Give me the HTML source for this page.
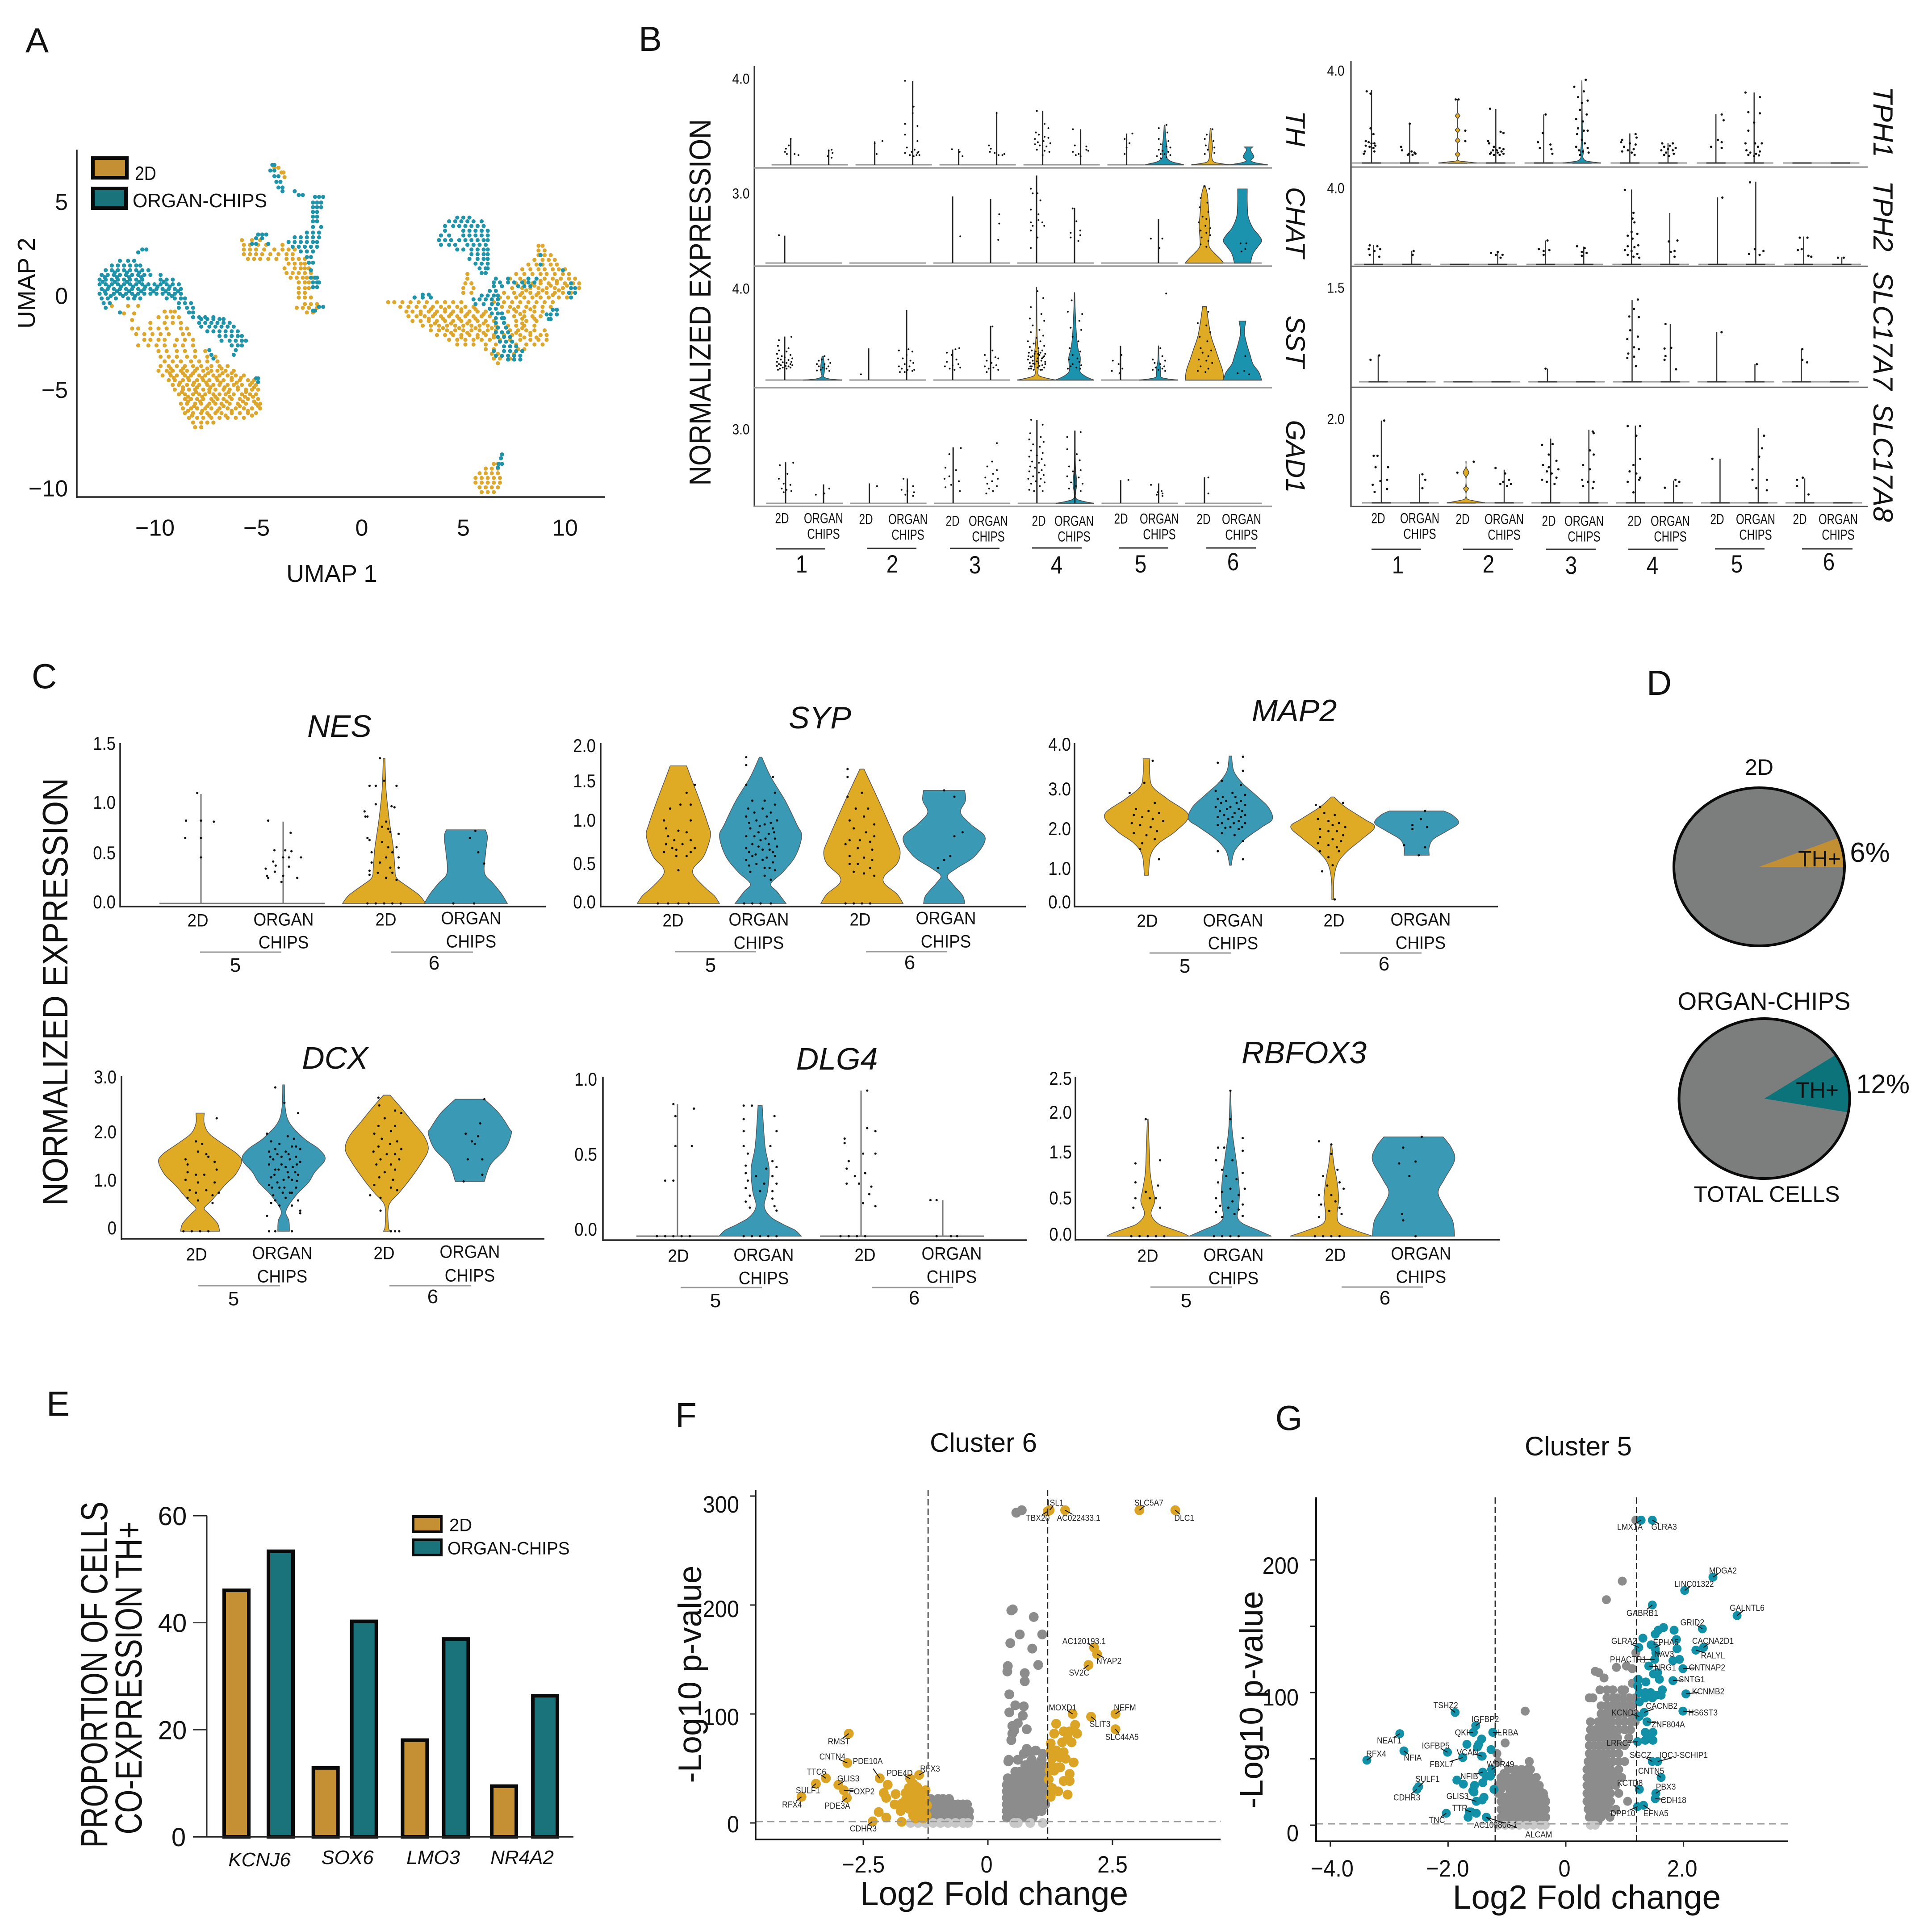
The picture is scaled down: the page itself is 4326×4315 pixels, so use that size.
<!DOCTYPE html>
<html lang="en">
<head>
<meta charset="utf-8">
<title>Single-cell expression figure, panels A to G</title>
<style>
html,body{margin:0;padding:0;background:#fff}
#figure{display:block;font-family:"Liberation Sans",Arial,sans-serif;fill:#111}
</style>
</head>
<body>
<svg id="figure" xmlns="http://www.w3.org/2000/svg" width="4326" height="4315" viewBox="0 0 4326 4315">
<rect width="4326" height="4315" fill="#fff"/>
<g font-size="78" text-anchor="middle">
<text x="83" y="117">A</text>
<text x="1456" y="114">B</text>
<text x="99" y="1541">C</text>
<text x="3715" y="1556">D</text>
<text x="130" y="3170">E</text>
<text x="1536" y="3196">F</text>
<text x="2886" y="3202">G</text>
</g>
<g text-anchor="middle">
<text x="743" y="1303" font-size="55">UMAP 1</text>
<text transform="translate(78,634) rotate(-90)" font-size="55">UMAP 2</text>
<text transform="translate(1591,677) rotate(-90)" font-size="68" textLength="821" lengthAdjust="spacingAndGlyphs">NORMALIZED EXPRESSION</text>
<text transform="translate(151,2221) rotate(-90)" font-size="80" textLength="958" lengthAdjust="spacingAndGlyphs">NORMALIZED EXPRESSION</text>
<text transform="translate(240,3750) rotate(-90)" font-size="84" textLength="775" lengthAdjust="spacingAndGlyphs">PROPORTION OF CELLS</text>
<text transform="translate(317,3757) rotate(-90)" font-size="84" textLength="701" lengthAdjust="spacingAndGlyphs">CO-EXPRESSION TH+</text>
<text x="2202" y="3251" font-size="60">Cluster 6</text>
<text x="3534" y="3259" font-size="60">Cluster 5</text>
<text x="2226" y="4266" font-size="75">Log2 Fold change</text>
<text x="3553" y="4274" font-size="75">Log2 Fold change</text>
<text transform="translate(1570,3749) rotate(-90)" font-size="73">-Log10 p-value</text>
<text transform="translate(2827,3806) rotate(-90)" font-size="73">-Log10 p-value</text>
</g>
<g text-anchor="middle" font-style="italic">
<text transform="translate(2880,288) rotate(90)" font-size="60">TH</text>
<text transform="translate(2880,498) rotate(90)" font-size="60">CHAT</text>
<text transform="translate(2880,765) rotate(90)" font-size="60">SST</text>
<text transform="translate(2880,1022) rotate(90)" font-size="60">GAD1</text>
<text transform="translate(4195,273) rotate(90)" font-size="62">TPH1</text>
<text transform="translate(4195,484) rotate(90)" font-size="62">TPH2</text>
<text transform="translate(4195,741) rotate(90)" font-size="62">SLC17A7</text>
<text transform="translate(4195,1036) rotate(90)" font-size="62">SLC17A8</text>
<text x="760" y="1650" font-size="70">NES</text>
<text x="750" y="2393" font-size="70">DCX</text>
<text x="1836" y="1631" font-size="70">SYP</text>
<text x="2898" y="1615" font-size="70">MAP2</text>
<text x="1874" y="2395" font-size="70">DLG4</text>
<text x="2920" y="2381" font-size="70">RBFOX3</text>
</g>
<g text-anchor="middle">
<text x="3939" y="1735" font-size="50">2D</text>
<text x="3950" y="2261" font-size="56" textLength="387" lengthAdjust="spacingAndGlyphs">ORGAN-CHIPS</text>
<text x="3956" y="2691" font-size="50">TOTAL CELLS</text>
</g>
<g id="layer-umap"></g>
<g id="layer-b"></g>
<g id="layer-c"></g>
<g id="layer-d"></g>
<g id="layer-e"></g>
<g id="layer-f"></g>
<g id="layer-g"></g>
<g text-anchor="middle" font-size="50">
<text x="4074" y="1940">TH+</text>
<text x="4069" y="2458">TH+</text>
<text x="4187" y="1930" font-size="62">6%</text>
<text x="4216" y="2448" font-size="60">12%</text>
</g>
</svg>
<script>
/* ---------- UMAP data: each row is [UMAP2, [UMAP1 values]] ---------- */
const umapGold=[
[-3.45,[-9.7,-9.3,-8.9,-8.4,-8.0,-7.6,-7.1]],[-3.7,[-9.9,-9.5,-9.1,-8.7,-8.3,-7.9,-7.4,-7.0,-6.6]],
[-3.95,[-10.0,-9.6,-9.3,-8.9,-8.6,-8.2,-7.8,-7.4,-7.1,-6.7,-6.3]],[-4.2,[-9.8,-9.4,-9.1,-8.7,-8.4,-8.0,-7.7,-7.3,-7.0,-6.6,-6.2,-5.8]],
[-4.45,[-9.5,-9.2,-8.8,-8.5,-8.1,-7.8,-7.5,-7.1,-6.8,-6.4,-6.0,-5.6,-5.3]],[-4.7,[-9.3,-9.0,-8.6,-8.3,-8.0,-7.6,-7.3,-7.0,-6.6,-6.3,-5.9,-5.5,-5.2]],
[-4.95,[-9.2,-8.8,-8.5,-8.2,-7.8,-7.5,-7.2,-6.8,-6.5,-6.1,-5.7,-5.4,-5.1]],[-5.2,[-9.0,-8.7,-8.3,-8.0,-7.7,-7.3,-7.0,-6.7,-6.3,-5.9,-5.5,-5.2]],
[-5.45,[-8.7,-8.4,-8.1,-7.8,-7.4,-7.1,-6.8,-6.4,-6.0,-5.6,-5.1]],[-5.7,[-8.9,-8.6,-8.2,-7.9,-7.5,-7.2,-6.9,-6.5,-6.1,-5.7,-5.2,-5.0]],
[-5.95,[-8.8,-8.4,-8.1,-7.7,-7.4,-7.0,-6.6,-6.2,-5.8,-5.4,-5.0]],[-6.2,[-8.7,-8.3,-7.9,-7.6,-7.2,-6.9,-6.4,-6.0,-5.6,-5.2]],
[-6.45,[-8.5,-8.1,-7.8,-7.4,-7.0,-6.6,-6.2,-5.8]],[-6.7,[-8.3,-7.9,-7.6,-7.3]],[-6.95,[-8.2,-7.9]],
[-3.83,[-9.4,-8.8,-8.1,-7.6,-6.9]],[-4.08,[-9.45,-8.8,-8.3,-7.55,-6.85,-6.4]],[-4.33,[-9.25,-8.55,-7.85,-7.15,-6.4,-5.95]],[-4.58,[-8.95,-8.25,-7.65,-6.95,-6.15,-5.4]],[-4.83,[-8.8,-8.1,-7.45,-6.75,-6.1,-5.3]],[-5.08,[-8.85,-8.15,-7.5,-6.55,-5.7]],[-5.33,[-8.55,-7.85,-7.2,-6.5,-5.75,-5.35]],[-5.58,[-8.55,-7.95,-7.3,-6.65,-5.85,-5.3]],[-5.83,[-8.25,-7.6,-6.8,-6.0,-5.1]],[-6.08,[-8.55,-7.85,-7.1,-6.4,-5.6]],[-6.33,[-8.35,-7.5,-6.7,-5.4]],
[-.8,[-9.7,-9.4,-9.2]],[-1.1,[-10,-9.6,-9.3,-9.0]],[-1.4,[-10.4,-9.7,-9.3,-8.9]],[-1.7,[-11.3,-11.0,-10.4,-10.0,-9.6,-8.9,-8.6]],
[-2.0,[-11.1,-10.7,-10.3,-9.9,-9.5,-8.8,-8.5]],[-2.3,[-10.7,-10.4,-10,-9.7,-9.1,-8.7,-8.3]],[-2.6,[-11,-10.5,-10.1,-9.7,-9.2,-8.8,-8.3]],
[-2.9,[-10.0,-9.6,-9.1,-8.7,-8.2,-7.7]],[-3.2,[-9.9,-9.5,-9.1,-8.6,-8.2,-7.6,-7.2]],[-.5,[-12.3,-11.5,-11.0]],[-.9,[-11.7,-11.2]],[-1.25,[-11.3]],
[3.0,[-5.9,-5.4,-5.0]],[2.75,[-5.8,-5.5,-5.1,-4.7,-3.9]],[2.5,[-5.8,-5.5,-5.2,-4.8,-4.3,-3.9,-3.6,-3.3]],[2.25,[-5.8,-5.5,-5.2,-4.9,-4.5,-4.1,-3.7,-3.4]],
[2.0,[-5.6,-5.3,-5.0,-4.6,-4.2,-3.7,-3.4,-3.1,-2.8]],[1.75,[-3.6,-3.3,-3.0,-2.8]],[1.5,[-3.8,-3.3,-3.0,-2.8,-2.6]],[1.25,[-3.7,-3.4,-3.1,-2.8,-2.5]],
[1.0,[-3.5,-3.2,-2.9,-2.7,-2.4]],[.75,[-3.1,-2.8,-2.6,-2.4]],[.45,[-3.1,-2.8,-2.6]],[.2,[-3.1,-2.8]],[-.05,[-3.1,-2.8,-2.5]],[-.4,[-2.8,-2.5,-2.2]],[-.6,[-3.2,-2.9,-2.6,-2.2]],[-.85,[-2.7,-2.4]],
[6.85,[-4.3,-4.1]],[6.6,[-3.95,-3.85]],[6.35,[-3.8]],
[2.7,[8.7,8.9]],[2.45,[8.7,9.0]],[2.2,[8.7,9.0,9.3]],[1.95,[8.5,8.9,9.2,9.5]],[1.7,[8.2,8.6,8.9,9.3,9.6]],[1.45,[7.9,8.3,8.7,9.0,9.4,9.7,10.0]],
[1.2,[5.2,7.6,8.0,8.4,8.8,9.1,9.5,9.9,10.2]],[.95,[5.2,7.3,7.8,8.2,8.6,9.0,9.4,9.8,10.2,10.5]],[.7,[5.1,5.4,7.6,8.0,8.4,8.8,9.2,9.6,10.0,10.4,10.7]],
[.45,[5.0,5.5,7.4,7.9,8.3,8.7,9.1,9.5,9.9,10.3,10.7]],[.2,[5.0,5.4,7.0,7.5,7.9,8.3,8.7,9.1,9.5,9.9,10.3]],[-.05,[2.6,6.8,7.2,7.6,8.0,8.4,8.8,9.2,9.7,10.1]],
[-.3,[1.3,1.6,2.0,2.4,2.8,3.2,3.7,4.1,4.5,4.9,6.5,7.0,7.4,7.8,8.2,8.6,9.0,9.4]],[-.55,[1.9,2.3,2.7,3.1,3.5,3.9,4.3,4.7,5.1,5.5,6.9,7.3,7.7,8.1,8.5,8.9,9.3]],
[-.8,[2.2,2.5,2.9,3.3,3.7,4.1,4.5,4.9,5.3,5.7,6.1,7.2,7.6,8.0,8.5,8.9]],[-1.05,[2.3,2.7,3.1,3.5,3.9,4.3,4.7,5.1,5.5,5.9,6.3,7.5,8.0,8.4,8.8]],
[-1.3,[2.5,2.9,3.3,3.7,4.1,4.5,4.9,5.3,5.7,6.1,6.5,7.6,8.1,8.6]],[-1.55,[3.0,3.4,3.8,4.2,4.6,5.0,5.4,5.8,6.2,6.6,7.2,7.6,8.0,8.5]],
[-1.8,[3.4,3.8,4.2,4.6,5.0,5.4,5.8,6.2,6.6,7.3,7.7,8.1,8.5,9.0]],[-2.05,[3.7,4.1,4.5,4.9,5.3,5.7,6.1,6.5,7.0,7.4,7.8,8.3,8.8,9.1]],
[-2.3,[4.3,4.7,5.1,5.5,5.9,6.3,6.8,7.3,7.8,8.3,8.7,9.1]],[-2.55,[4.7,5.1,5.5,6.1,6.6,7.6,8.1,8.5,8.9]],[-2.8,[6.1,6.5,7.7,8.0]],[-3.05,[6.4,6.7,7.5]],[-3.3,[6.5,6.8,7.3]],[-3.55,[6.7]],
[-.68,[3.4,4.1,4.9,5.6,7.5,8.3]],[-.93,[2.9,3.6,4.4,5.2,6.0,7.8]],[-1.18,[3.3,4.0,4.8,5.6,7.9,8.5]],[-1.43,[3.6,4.4,5.2,6.0,7.9]],[-1.68,[4.0,4.8,5.6,6.4,7.9]],[-1.93,[4.4,5.2,6.0,7.6,8.3]],[-2.18,[4.9,5.7,6.5,8.0,8.6]],[.33,[8.1,8.9,9.7]],[.08,[7.8,8.6,9.4]],[.58,[8.5,9.3,10.1]],[.83,[8.0,8.8,9.6]],
[-8.9,[6.5,6.7]],[-9.15,[6.1,6.4,6.7]],[-9.4,[5.8,6.1,6.4,6.7]],[-9.65,[5.6,5.9,6.2,6.5,6.8]],[-9.9,[5.6,5.9,6.2,6.5,6.8]],[-10.15,[5.8,6.1,6.4,6.7]],[-10.4,[5.9,6.2,6.5]]
];
const umapTeal=[
[2.5,[-10.8,-10.6]],[2.35,[-11.0]],[1.9,[-11.9,-11.5,-11.2]],[1.65,[-12.3,-12.0,-11.7,-11.4,-11.1,-10.9]],[1.4,[-12.6,-12.3,-12.0,-11.7,-11.4,-11.1,-10.8,-10.5]],
[1.15,[-12.8,-12.5,-12.2,-11.9,-11.6,-11.3,-11.0,-10.7,-10.4,-9.9]],[.9,[-12.9,-12.6,-12.3,-12.0,-11.7,-11.4,-11.1,-10.8,-9.9,-9.6,-9.3]],
[.65,[-12.9,-12.6,-12.3,-12.0,-11.7,-11.4,-11.1,-10.8,-10.5,-10.2,-9.9,-9.6,-9.3,-9.0]],[.4,[-12.8,-12.5,-12.2,-11.9,-11.6,-11.3,-11,-10.7,-10.4,-10.1,-9.8,-9.5,-9.2,-8.9]],
[.15,[-12.9,-12.6,-12.2,-11.9,-11.6,-11.3,-11,-10.7,-10.4,-10.1,-9.8,-9.5,-9.2,-8.9]],[-.1,[-12.8,-12.5,-12.1,-11.5,-11.2,-10.9,-9.6,-9.2,-8.9,-8.7]],
[-.35,[-12.7,-12.4,-9.0,-8.7,-8.4]],[-.6,[-12.6,-9.0,-8.6,-8.3]],[-.85,[-11.9,-8.5,-8.3]],[-1.1,[-8.3,-8.0,-7.7,-7.3]],
[-1.2,[-7.9,-7.6,-7.3,-7.0,-6.8]],[-1.4,[-8.0,-7.7,-7.4,-7.1,-6.8,-6.5]],[-1.6,[-7.9,-7.5,-7.2,-6.9,-6.6,-6.3]],[-1.85,[-7.6,-7.3,-7.0,-6.7,-6.4,-6.1]],
[-2.1,[-7.0,-6.7,-6.4,-6.1,-5.9]],[-2.35,[-6.9,-6.5,-6.2,-5.9,-5.7]],[-2.6,[-6.4,-6.1,-5.9]],[-2.85,[-7.5,-6.2]],[-3.1,[-7.4,-6.3]],[-3.3,[-7.3]],[-4.35,[-5.2,-5.1]],[-4.55,[-5.1]],
[1.28,[-12.15,-11.55,-10.95]],[1.03,[-12.65,-12.05,-11.45,-10.85]],[.78,[-12.75,-12.15,-11.55,-10.95,-9.75]],[.53,[-12.45,-11.85,-11.25,-10.65,-10.05,-9.45]],[.28,[-12.65,-12.05,-11.45,-10.85,-10.25,-9.65,-9.05]],[.03,[-12.35,-11.75,-11.15,-9.35]],
[7.0,[-4.4,-4.3]],[6.7,[-4.5,-4.3]],[6.4,[-4.3,-4.1]],[6.1,[-4.2,-4.0]],[5.8,[-4.1,-3.9]],[5.6,[-3.9,-3.3]],[5.4,[-3.1,-2.9]],
[5.3,[-2.3,-2.1,-1.9]],[5.0,[-2.4,-2.2,-2.0]],[4.75,[-2.4,-2.2,-2.0]],[4.5,[-2.4,-2.2]],[4.25,[-2.4,-2.2]],[4.0,[-2.4,-2.2]],[3.7,[-2.4,-2.0]],[3.4,[-2.7,-2.4,-2.1]],
[3.15,[-3.3,-3.0,-2.7,-2.4,-2.1]],[2.9,[-3.6,-3.3,-3.0,-2.7,-2.4,-2.2]],[2.65,[-3.4,-3.1,-2.8,-2.5,-2.2]],[2.4,[-3.0,-2.7,-2.4]],[2.1,[-2.7,-2.5]],[1.8,[-2.6,-2.4]],[1.4,[-2.5]],
[1.0,[-2.5,-2.3,-2.2]],[.75,[-2.4,-2.2,-2.1]],[.5,[-2.4,-2.2]],[3.3,[-5.1,-4.9,-4.7]],[3.1,[-5.2,-4.9]],[2.8,[-5.4,-5.2,-4.6]],[-.55,[-2.1,-1.9]],[-.75,[-2.4,-2.3]],
[4.2,[4.7,5.0,5.3]],[4.0,[4.3,4.6,4.9,5.2,5.5,5.9]],[3.75,[4.1,4.5,4.8,5.1,5.4,5.7,6.0]],[3.5,[4.1,5.0,5.3,5.6,5.9,6.2]],[3.25,[3.9,4.3,5.0,5.3,5.6,5.9,6.2]],
[3.0,[3.8,4.1,4.4,4.8,5.1,5.4,5.7,6.0,6.2]],[2.75,[3.9,4.3,4.6,5.2,5.5,5.8,6.1]],[2.5,[4.7,5.0,5.4,5.7,6.0,6.2]],[2.25,[5.4,5.7,6.0,6.2]],[2.0,[5.3,5.7,6.0,6.2]],
[1.75,[5.6,5.9,6.2]],[1.5,[5.8,6.1,6.2]],[1.25,[5.9,6.1]],[.95,[6.6,7.2,8.2,8.6]],[.75,[6.5,6.8,7.2,7.5,7.9,8.2,8.5]],[.55,[6.5,6.9,7.7,8.0,8.3]],
[.3,[6.3,6.6]],[.05,[5.9,6.2,6.5,6.7]],[-.15,[5.5,5.8,6.1,6.4,6.7]],[-.4,[5.6,6.0,6.4,6.7]],[-.65,[6.3,6.6]],[-.9,[6.4,6.7,6.9]],[-1.15,[6.6,6.9,7.0]],[-1.4,[6.6,7.0]],
[-1.65,[6.7,7.1]],[-1.9,[6.6,6.9,7.2]],[-2.15,[6.7,7.0,7.3]],[-2.4,[6.8,7.1,7.4]],[-2.65,[7.0,7.3,7.6]],[-2.9,[6.5,7.0,7.3,7.6,7.9]],[-3.15,[6.6,6.9,7.2,7.5,7.8]],[-3.35,[7.2,7.5,7.8]],
[-.05,[2.6,3.0,3.4]],[.1,[3.0,3.3]],[-.7,[9.4,9.6]],[-.95,[9.1,9.3,9.6]],[-1.2,[9.2,9.3]],[.7,[10.3]],[.45,[10.3,10.5]],[.2,[10.2,10.5]],[-.05,[10.3]],[2.2,[8.8]],[1.7,[8.8]],[1.4,[9.9]],
[-8.4,[6.9]],[-8.6,[6.85]],[-8.9,[6.75,6.9]],[-9.1,[6.7]]
];
const umapXTicks=[-10,-5,0,5,10];
const umapYTicks=[5,0,-5,-10];

/* ---------- Panel B: vertical-line tops, violin profiles ([value, relative width]) and jitter ([dx, value, ...]) ---------- */
const groupNumbers=['1','2','3','4','5','6'];
const thTops=[1.22,.71,1.09,3.88,.73,2.46,2.51,1.65,1.45,0,0,0];
const chatTops=[1.18,0,0,0,2.87,2.76,3.77,2.38,0,1.89,0,0];
const sstTops=[1.91,0,1.39,3.08,1.34,2.38,0,0,1.5,0,0,0];
const gad1Tops=[1.67,.77,.81,1.01,2.28,0,3.39,2.96,.94,.81,1.06,0];
const tph1Tops=[3.17,1.71,0,2.34,2.1,0,1.28,.86,2.11,3.05,0,0];
const tph2Tops=[1.03,.71,0,.69,1.25,.93,3.92,2.69,3.51,4.33,1.46,.37];
const slc7Tops=[.42,0,0,0,.21,0,1.3,.92,.79,.28,.52,0];
const slc8Tops=[1.96,.68,0,.79,1.53,1.74,1.84,.53,1.05,1.78,.58,0];
const thShapes={9:[[1.84,.02],[1.3,.06],[.85,.12],[.6,.14],[.4,.1],[.25,.18],[.12,.45],[.06,.75],[0,1]],10:[[1.69,.02],[1.2,.06],[.8,.1],[.4,.06],[.15,.15],[.07,.45],[0,1]],11:[[.83,.22],[.7,.1],[.5,.22],[.35,.28],[.2,.12],[.1,.35],[0,1]]};
const chatShapes={10:[[3.34,.03],[2.9,.16],[2.2,.22],[1.6,.28],[1.1,.24],[.7,.25],[.4,.55],[.2,.8],[0,1]],11:[[3.19,.25],[2.6,.25],[2.0,.3],[1.5,.55],[1.2,.85],[.95,1],[.7,.8],[.4,.55],[0,.42]]};
const sstShapes={1:[[1.05,.03],[.6,.1],[.3,.08],[.15,.05],[.05,.35],[0,1]],6:[[4.08,.01],[2,.03],[1.2,.1],[.6,.1],[.25,.08],[.12,.35],[0,1]],7:[[3.84,.01],[3,.04],[2,.1],[1.4,.18],[1,.3],[.6,.28],[.35,.3],[.15,.6],[0,1]],9:[[1.5,.01],[.8,.04],[.5,.12],[.3,.1],[.12,.15],[.05,.5],[0,1]],10:[[3.23,.1],[2.6,.2],[1.9,.35],[1.4,.55],[.9,.75],[.4,.95],[0,1]],11:[[2.59,.18],[2.1,.1],[1.6,.22],[1.1,.4],[.7,.55],[.35,.85],[0,1]]};
const gad1Shapes={7:[[2.43,.01],[1.5,.03],[.8,.1],[.5,.05],[.2,.06],[.08,.45],[0,1]]};
const tph1Shapes={2:[[2.77,.01],[2.2,.01],[2.05,.12],[1.9,.01],[1.55,.01],[1.43,.12],[1.3,.01],[1.1,.01],[.97,.12],[.85,.01],[.5,.01],[.38,.12],[.25,.01],[.1,.05],[.05,.5],[0,1]],5:[[3.56,.005],[1,.03],[.5,.08],[.25,.05],[.1,.2],[.04,.6],[0,1]]};
const slc8Shapes={2:[[.98,.01],[.85,.01],[.72,.15],[.6,.01],[.4,.02],[.34,.13],[.25,.01],[.1,.05],[.05,.4],[0,1]]};
const thDots=[[-.25,.75,-.3,.6,-.2,.5,.2,.5,.4,.45,0,1.2,-.1,.9],[.15,.7,.2,.55,-.05,.4,.15,.33,0,.65],[.4,1.1,.1,.5,0,1],[-.4,3.9,.05,2.7,0,2.4,.25,1.8,-.4,1.9,-.4,1.4,.25,1.1,-.3,.8,.1,.7,.3,.6,-.05,.6,.25,.55,.35,.45,-.4,.55,.2,.45,-.15,.45,.05,.4],[-.35,.72,.05,.6,.2,.4],[-.4,.9,-.3,.75,-.35,.6,-.1,.55,.1,.45,.3,.45,.4,.5,0,2.4],[-.3,2.5,.1,1.9,.3,1.7,-.35,1.5,-.2,1.4,.1,1.3,.3,1.25,-.4,1.2,-.25,1.05,.05,1.1,.4,1,-.4,.95,-.15,.9,.2,.85,-.3,.7,.1,.65,.35,.6,0,.45],[-.4,1.65,-.3,.9,-.4,.6,-.25,.45,.3,.85,.4,.65,.3,.7,-.1,.5,0,.4],[.3,1.45,-.1,1.2,.15,1,0,.8,-.1,.5],[.1,1.85,-.3,1.7,.15,1.5,-.3,1.2,.2,1.1,-.2,.95,.1,.85,.3,.8,-.3,.7,-.1,.65,.2,.6,0,.5,-.2,.5,.3,.45,-.4,.4,.1,.35,-.2,.3],[.1,1.65,-.2,1.4,-.3,1.2,.15,1.1,-.25,.9,.2,.8,-.15,.7,.2,.55,-.3,.5],[]];
const chatDots=[[-.3,1.2],[],[],[],[.4,1.15],[.45,2.1,.45,1.7,.4,1],[-.3,3.2,-.2,3,.05,3,.2,2.7,-.3,2.3,.1,2.1,-.3,1.75,-.2,1.6,.1,1.85,.3,1.75,.4,1.6,-.3,1.4,.05,1.1,-.3,.65],[-.1,2.35,.1,1.8,.3,1.4,-.2,1.3,.3,1.2,-.2,1.1,.2,.95],[],[-.4,1.05,.2,1.05,.05,.65],[0,3.3,.25,3.2,-.2,2.8,.15,2.6,-.25,2.4,.2,2.2,-.1,2,.1,1.9,-.3,1.75,.05,1.6,.3,1.5,-.2,1.4,.1,1.3,.3,1.2,-.15,1.1,.2,.95,-.2,.8,.1,.7],[-.1,.85,.2,.85,.15,.6,-.05,.5]];
const sstDots=[[.35,1.9,-.3,1.75,-.35,1.5,.2,1.4,-.3,1.3,.1,1.25,-.4,1.15,.3,1.1,-.15,1.05,0,1,.4,.95,-.35,.95,-.2,.9,.2,.88,.35,.8,-.4,.8,-.1,.78,.1,.75,.3,.7,-.3,.7,-.2,.65,.05,.62,.2,.6,-.4,.62,.4,.65,-.1,.55,.3,.55,-.25,.5,.1,.5,-.35,.45],[.1,1.05,-.05,.9,.3,.9,-.2,.85,.4,.75,-.3,.7,.1,.7,.3,.6,-.2,.6,0,.55,.2,.5,-.1,.45,.35,.4,-.3,.42],[-.4,.25],[.1,1.35,-.4,1.3,.3,1.25,0,1.1,-.2,.95,.2,.85,.35,.75,-.1,.7,-.4,.6,.15,.6,-.25,.5,.05,.45,.3,.4,-.35,.35,-.1,.35,.4,.45],[.35,1.4,.15,1.35,-.3,1.2,-.05,1.1,.2,.9,-.3,.8,.3,.7,0,.65,-.4,.6,.4,.55,-.15,.5,.1,.45],[.1,2.35,.1,1.3,-.3,1.1,.25,1,.4,.95,-.2,.85,.05,.75,.3,.65,-.3,.6,.15,.55,-.1,.5,.4,.45,-.2,.35],[.05,3.9,.35,3.6,-.3,3.2,.25,2.9,-.35,2.7,.4,2.6,-.2,2.4,.15,2.2,-.3,2.1,.35,1.95,0,1.85,-.45,1.7,.2,1.7,-.15,1.6,.4,1.5,-.35,1.45,.1,1.4,-.25,1.3,.3,1.3,.45,1.15,-.4,1.2,-.1,1.15,.15,1.1,-.3,1,.35,1,.05,.95,-.45,.9,.25,.85,-.2,.85,.45,.8,-.35,.75,.1,.75,-.1,.7,.3,.65,-.25,.6,.4,.55,.05,.55,-.4,.5,.2,.45,-.15,.45,-.05,1.25,.2,1.2,-.2,1.05,.4,1.05,.02,.82,-.32,.6,.15,.62,-.18,.72,.28,.95,-.42,1.05,.08,1.15,.45,.7,-.28,.5,.28,.45],[-.15,3.5,.4,2.9,-.35,3,.25,2.6,-.2,2.3,.35,2.2,-.1,1.9,.2,1.7,-.25,1.4,.3,1.25,-.1,1.1,.15,.95,-.3,.9,.25,.8,-.1,.7,.35,.65,-.2,.6,.1,.55,.3,.5,-.35,.5],[-.4,.85,.05,1.1,-.1,.7,-.45,.4,.1,.5,-.05,.3],[.4,3.8,.1,1.4,.2,1.05,-.3,.9,.35,.85,-.2,.75,.1,.7,.3,.6,-.15,.55,.2,.5,-.3,.45,0,.45,.35,.4],[.2,3,-.35,2.5,.1,2.4,.3,2.1,-.25,1.9,.15,1.7,-.2,1.4,.35,1.3,-.1,1.2,.2,1.05,-.3,.9,.1,.85,.4,.75,-.2,.6,.2,.5,-.35,.4,.05,.35],[.15,1.05,.1,.4,-.25,.3,.35,.25]];
const gad1Dots=[[.4,1.65,-.3,1.55,-.35,1,.1,1.2,-.1,.8,.25,.75,-.2,.6,.05,.55,.3,.5,-.1,.45],[.3,.6,-.4,.35,.05,.4],[.4,.7],[-.2,1,.3,.7,-.3,.55,0,.5,.35,.45,-.1,.35,.3,.3],[.4,2.25,-.2,2,-.4,1.45,.15,1.35,-.45,1,-.2,1.1,.3,.9,.35,.5,-.4,.65,-.1,.75],[.3,2.45,.05,1.7,-.2,1.5,.3,1.35,.1,1.2,-.3,1.05,.35,1,.05,.9,-.2,.8,.3,.7,-.1,.6,.1,.5,-.25,.4],[-.3,3.4,.3,3.2,-.35,2.85,.2,2.7,-.4,2.6,.35,2.5,-.2,2.4,.15,2.3,-.3,2.15,.3,2.05,0,1.95,-.4,1.9,.25,1.8,-.25,1.7,.1,1.65,.4,1.55,-.35,1.5,-.1,1.45,.25,1.35,-.4,1.3,.1,1.25,.35,1.15,-.2,1.1,-.45,1,.2,1,-.05,.9,.4,.85,-.3,.8,.15,.7,-.4,.55,.3,.5,-.15,.5],[.3,2.9,-.4,2.7,-.4,2.2,.1,2,.25,1.75,-.3,1.5,.3,1.35,-.1,1.3,-.4,1.1,.2,1.05,-.2,.85,.4,.8,.05,.7,-.3,.6,.3,.5],[.4,.95],[-.4,.75,.15,.5,-.05,.45,.2,.4,-.1,.35,.2,.3],[.2,1.05,.2,.4],[]];
const tph1Dots=[[-.25,3.1,-.05,3,-.05,1.5,.1,1.25,-.3,.95,-.15,.9,0,.85,.15,.85,.2,.75,-.3,.75,-.1,.7,.1,.65,-.35,.5,.15,.5,-.4,.4],[0,1.7,-.45,.7,-.4,.55,.1,.5,.25,.45,-.05,.4,.3,.4,.15,.35,-.1,.35],[-.1,2.75,.05,2.75,.4,1.4,.4,.95],[-.3,2.35,-.4,.95,.25,1.35,.4,1.3,-.35,.85,-.1,.7,.2,.65,.4,.6,-.15,.55,.05,.55,.3,.5,-.25,.45,.1,.45,.4,.4,-.1,.35,.2,.35,-.3,.4],[.1,2.1,-.05,1.3,-.3,.9,.35,.8,-.2,.65,.4,.6,.45,.4],[.2,3.6,-.4,3.3,.1,3.1,-.2,2.85,.3,2.7,0,2.6,-.1,2.3,.25,2.1,-.3,1.9,.05,1.8,-.2,1.5,.1,1.4,.3,1.4,-.25,1.25,0,1,.15,.85,-.3,.7,.3,.65,-.15,.55,.05,.5,.35,.45,-.1,.35],[.3,1.25,-.4,1,.35,1.1,-.45,.9,0,.85,.3,.8,-.3,.7,.2,.6,-.1,.55,-.4,.5,.1,.45,.25,.35],[-.3,.85,.25,.85,.1,.75,-.2,.7,.4,.65,0,.6,.25,.55,-.35,.55,-.1,.45,.3,.4,-.2,.35,.05,.3],[.3,2.1,.4,1.85,.1,1,.3,.9,-.25,.7,.3,.65],[-.45,3.05,.3,2.85,-.3,2.2,.3,2.15,0,1.75,-.3,1.4,.4,.85,-.45,.85,.05,.85,.2,.7,-.4,.55,.3,.5,-.2,.45,.1,.4,-.3,.35,.25,.33,0,.3],[],[]];
const tph2Dots=[[-.2,1,.2,.95,.35,.8,-.25,.8,.05,.7,-.2,.5,.3,.4],[.1,.7,.05,.5],[],[-.35,.6,0,.65,.25,.5,-.1,.5,.15,.35],[.1,1.25,-.35,.8,-.1,.7,.2,.75,-.1,.5],[-.35,.95,.05,.85,-.1,.65,.15,.6,-.1,.45],[-.35,3.9,.1,2.7,.05,2.4,.15,2.2,0,1.7,.3,1.6,-.2,1.5,.05,1.35,.35,1,-.2,.95,.15,.9,-.35,.75,0,.7,.3,.55,-.2,.5,.1,.4,.4,.35],[.4,1.25,-.05,1.2,.25,.7,.05,.65,.25,.4],[.25,3.5],[-.3,4.3,-.05,.8,-.35,.55,.4,.7,.2,.5],[-.2,1.4,.2,1.4,-.3,.75,-.1,.8,.25,.45,.4,.4],[-.2,.35,.1,.35]];
const slc7Dots=[[-.4,.35,.05,.42],[],[],[],[-.1,.21],[],[.3,1.31,.1,1.16,-.15,1.04,.35,1.03,-.1,.82,.3,.72,.35,.52,-.25,.68,.1,.55,-.2,.45,-.25,.38,.1,.4,.2,.25],[-.25,.92,-.3,.53,.05,.54,-.25,.41,-.3,.35,.3,.2],[.25,.79],[.1,.28],[.05,.52,.05,.35,.3,.31],[]];
const slc8Dots=[[.15,1.96,-.4,1.12,-.2,1.12,-.3,.85,.35,.85,-.05,.52,.3,.55,-.45,.43,.3,.33,-.35,.26],[.15,.68,.3,.55,.15,.35],[.4,.98,-.45,.72],[-.45,.83,.05,.7,.25,.55,-.2,.45,-.05,.5,.35,.45,.15,.4],[-.45,1.38,.1,1.4,-.1,1.15,.3,1,-.4,.9,-.1,.85,.4,.8,-.2,.75,.05,.7,.3,.6,-.45,.55,-.2,.5,.2,.45],[.2,1.7,.25,1.66,.05,1.25,.25,1.15,-.3,.9,.05,.8,-.35,.55,-.05,.5,.25,.5,-.3,.4,.2,.35],[-.4,1.83,.25,1.83,.05,1.6,.25,1.05,-.1,.9,-.3,.75,.05,.7,.25,.6,-.4,.5,.2,.55,-.1,.25],[-.45,.36,.1,.55,.3,.5,.15,.4],[-.4,1.05],[.3,1.6,.2,1.3,.05,1.1,-.3,.8,-.3,.55,.45,.55,-.1,.35,.45,.3],[-.4,.55,-.1,.6,.2,.2,-.4,.4],[]];

/* ---------- Panel C ---------- */
const nesTops=[1.07,.8,0,0];
const nesShapes=[null,null,[[1.42,.02],[1.1,.05],[.8,.13],[.55,.22],[.35,.26],[.25,.3],[.17,.55],[.08,.85],[0,1]],[[.72,.47],[.65,.52],[.5,.48],[.3,.45],[.2,.65],[.1,.85],[0,1]]];
const nesDots=[[-.36,.81,-.38,.64,.31,.8,-.09,1.08,0,.45,0,.64,0,.81],[-.36,.81,.18,.69,-.21,.52,.05,.52,.2,.51,.43,.45,-.24,.41,0,.45,.14,.45,-.18,.37,-.42,.34,.14,.36,-.39,.27,0,.27,.34,.25,-.04,.21,-.2,.31,-.36,.25],[-.1,1.42,0,1.2,-.35,1.15,-.2,1.15,.3,1.15,-.47,.9,-.45,.85,-.4,.85,-.2,.97,.18,.95,.25,.94,.05,.8,-.05,.75,.1,.73,.15,.7,-.4,.64,-.35,.62,.35,.68,.3,.55,-.3,.5,-.05,.6,.1,.55,.05,.45,.2,.5,.35,.45,-.3,.4,-.1,.4,.15,.35,.35,.35,-.35,.32,-.15,.3,.05,.25,.2,.3,.3,.23,-.35,.28,0,0,-.2,0,.2,0,-.4,0,.4,0],[.1,.64,.23,.71,.3,.5,.44,.39,-.3,0,.2,0]];
const dcxTops=[0,0,0,0];
const dcxShapes=[[[2.3,.1],[2.1,.1],[1.9,.22],[1.7,.55],[1.5,.9],[1.35,1],[1.1,.85],[.9,.6],[.6,.28],[.45,.1],[.35,.2],[.15,.42],[0,.47]],[[2.85,.02],[2.4,.04],[2.1,.15],[1.8,.5],[1.6,.85],[1.4,1],[1.15,.75],[.95,.6],[.7,.3],[.4,.06],[.2,.13],[0,.14]],[[2.65,.08],[2.4,.35],[2.1,.65],[1.85,.9],[1.6,1],[1.35,.85],[1,.55],[.75,.3],[.5,.05],[.1,.04],[0,.08]],[[2.57,.35],[2.3,.7],[2,.95],[1.9,1],[1.6,.85],[1.3,.5],[.97,.35]]];
const dcxDots=[[.4,2.2,-.1,1.75,.05,1.7,-.05,1.55,.15,1.5,.2,1.45,-.35,1.4,-.3,1.3,.35,1.35,.4,1.2,-.3,1.15,-.1,1.1,.1,1.1,-.35,1,-.05,.95,.35,.95,-.25,.8,-.1,.75,.15,.8,.45,.75,-.3,.65,.3,.7,-.05,.6,.3,.55,-.4,0,-.2,0,0,0,.2,0],[-.2,2.8,.02,2.5,.35,2.3,-.4,1.9,.1,1.85,.25,1.8,-.3,1.75,-.1,1.7,.2,1.65,.4,1.6,-.35,1.55,-.15,1.5,.05,1.55,.3,1.45,-.25,1.4,.15,1.4,.4,1.35,-.35,1.3,-.05,1.3,.22,1.25,-.2,1.2,.1,1.15,.35,1.1,-.3,1.05,0,1,.2,1,-.35,.9,-.1,.85,.3,.85,.15,.75,-.25,.7,.05,.65,.35,.6,-.3,.55,-.1,.5,.2,.5,.4,.4,-.4,.3,.4,.35,-.35,0,-.2,0,.2,0,-.2,1.6,.3,1.65,-.05,1.45,.12,1.5,-.32,1.45,.32,1.3,-.12,1.2,.05,1.25,.28,1.15,-.22,1.1,.12,1.05,-.15,.95,.32,.98,.02,.85,-.28,.85,.2,.75,-.02,.75,-.2,.6],[-.2,2.6,-.18,2.45,.2,2.35,.35,2.3,-.05,2.2,-.2,2.05,.2,2.05,.1,1.95,-.3,1.9,-.12,1.8,.25,1.75,.08,1.7,-.2,1.65,.35,1.6,-.32,1.55,0,1.5,.2,1.5,-.15,1.4,.3,1.4,-.25,1.3,.1,1.3,.2,1.2,-.05,1.15,-.18,1.05,.15,1,-.3,.9,.1,.85,.25,.8,-.4,.7,-.15,.65,-.15,.4,.1,0,.2,0,.3,0],[.35,2.57,-.1,1.9,.05,1.75,.2,1.85,.25,2.1,.12,1.7,.3,1.4,-.05,1.4,.3,1.1,-.15,.97]];
const sypTops=[0,0,0,0];
const sypShapes=[[[1.74,.2],[1.6,.3],[1.3,.52],[1,.72],[.85,.78],[.6,.62],[.45,.37],[.35,.38],[.2,.65],[.1,.87],[0,1]],[[1.85,.03],[1.6,.25],[1.3,.6],[1,.88],[.85,1],[.6,.85],[.4,.55],[.25,.25],[.15,.4],[0,.62]],[[1.7,.05],[1.4,.32],[1.1,.58],[.8,.83],[.65,.93],[.5,.85],[.35,.55],[.25,.55],[.12,.85],[0,1]],[[1.43,.5],[1.3,.52],[1.15,.4],[1,.65],[.83,1],[.6,.75],[.45,.32],[.35,.08],[.25,.2],[.1,.45],[0,.5]]];
const sypDots=[[.4,1.5,.2,1.4,.05,1.25,-.2,1.2,.3,1.25,-.35,1.05,.3,1.05,-.3,.95,0,.92,.2,.9,-.25,.85,-.1,.8,.3,.8,-.3,.75,.1,.75,-.15,.7,-.05,.68,.4,.7,-.35,.65,.3,.65,-.05,.6,.2,.6,0,.42,-.5,0,-.25,0,0,0,.25,0],[-.35,1.85,-.35,1.75,.3,1.6,-.35,1.5,.35,1.4,-.2,1.3,.1,1.3,.35,1.25,-.3,1.2,.05,1.2,.25,1.15,-.35,1.1,-.1,1.05,.4,1.05,.1,1,-.25,.95,.3,.95,-.05,.9,.2,.88,-.35,.85,.35,.82,0,.8,-.2,.75,.2,.75,.4,.72,-.35,.7,.05,.68,.3,.65,-.2,.6,.15,.58,-.35,.55,.3,.52,-.1,.5,.1,.45,.35,.42,-.25,.4,.1,.35,.25,.3,-.4,0,-.2,0,0,0,.25,0,-.15,1.15,.15,1.1,-.28,1.02,.25,1.02,-.02,.98,.33,.9,-.15,.85,.12,.82,-.28,.65,.22,.68,-.05,.72,.35,.6,-.12,.62,.05,.55,-.28,.48,.22,.45],[-.35,1.7,-.35,1.6,-.35,1.35,0,1.4,-.15,1.2,.15,1.2,-.3,1.05,.05,1.1,.3,1,-.2,.95,.1,.9,.3,.85,-.3,.8,-.05,.8,.2,.78,-.4,.75,-.1,.7,.25,.68,-.3,.6,.05,.58,.25,.55,-.3,.5,-.1,.5,.2,.45,-.2,.4,.05,.38,.3,.35,-.4,0,-.2,0,0,0,.2,0],[0,1.43,.25,1.35,.25,.85,.45,.9,.15,.6,0,.55,-.15,.45]];
const map2Tops=[0,0,0,0];
const map2Shapes=[[[3.6,.08],[3.2,.08],[2.9,.15],[2.6,.5],[2.2,1],[1.8,.7],[1.5,.3],[1.2,.1],[.7,.05]],[[3.67,.03],[3.3,.08],[3,.28],[2.7,.6],[2.4,.9],[2.1,1],[1.9,.75],[1.6,.35],[1.3,.1],[.95,.02]],[[2.65,.03],[2.4,.3],[2.1,.75],[1.9,1],[1.6,.7],[1.3,.35],[1,.12],[.6,.03],[.1,.02]],[[2.3,.65],[2.2,.85],[2,1],[1.8,.72],[1.6,.4],[1.4,.3],[1.2,.3]]];
const map2Dots=[[.15,3.55,-.05,3,-.4,2.75,.2,2.5,-.25,2.35,.05,2.3,.3,2.25,-.3,2.2,-.1,2.15,.15,2.1,.4,2.05,-.35,2,-.15,1.95,.1,1.9,.25,1.8,-.3,1.75,0,1.7,-.1,1.5,.2,1.6,-.15,1.35,.3,1.1],[-.3,3.5,.3,3.65,.3,3.3,-.2,3.05,.25,2.95,-.35,2.8,.05,2.75,.35,2.7,-.3,2.6,-.1,2.55,.15,2.5,.35,2.45,-.35,2.4,0,2.4,.2,2.35,-.25,2.3,.1,2.25,.35,2.2,-.3,2.15,-.05,2.1,.2,2.05,.35,2,-.3,1.95,0,1.9,.2,1.85,-.2,1.75,.1,1.7,.3,1.55,-.3,1.3,.3,1.1,-.18,2.65,.12,2.65,-.22,2.5,.25,2.55,-.08,2.35,.28,2.3,-.15,2.2,.05,2.15,.25,2.15,-.2,2,.08,2,.28,1.9,-.12,1.88],[-.4,2.45,-.3,2.4,.25,2.5,-.2,2.25,.05,2.2,-.35,2.1,-.1,2.05,.15,2,0,1.95,.3,1.9,-.3,1.85,-.1,1.8,.1,1.8,.25,1.7,-.3,1.65,0,1.6,.2,1.55,-.35,1.5,-.1,1.45,.1,1.4,.15,1.3,-.3,1.3,-.1,1.15,0,.95,-.25,.8,.05,.1],[.2,2.3,.1,2.1,-.1,1.95,.25,1.9,-.1,1.85,-.3,1.45,.2,1.4,.05,1.2]];
const dlg4Tops=[.88,0,.97,.24];
const dlg4Shapes=[null,[[.87,.05],[.6,.12],[.45,.22],[.3,.18],[.2,.1],[.13,.25],[.08,.55],[.04,.85],[0,1]],null,null];
const dlg4Dots=[[-.1,.88,.4,.85,-.05,.8,-.05,.6,.35,.6,-.3,.37,-.1,.37,-.5,0,-.3,0,-.1,0,.1,0,.3,0],[-.4,.87,-.2,.87,-.4,.78,.35,.8,-.4,.7,.4,.7,-.4,.6,.25,.6,-.3,.55,.3,.5,-.35,.47,.15,.45,.4,.46,-.35,.42,-.1,.4,.3,.4,-.3,.37,.1,.35,.4,.35,-.35,.32,0,.3,.3,.3,-.25,.27,.3,.25,-.35,.23,.35,.2,-.25,.19,.4,.17,-.4,0,-.2,0,0,0,.2,0,.4,0],[.15,.97,-.4,.65,-.4,.62,.15,.72,.35,.7,-.3,.5,.35,.55,-.35,.45,.05,.55,-.15,.4,.1,.42,-.35,.35,-.05,.35,.25,.33,.2,.28,.05,.22,.35,.2,-.5,0,-.3,0,-.1,0,.1,0],[-.3,.24,-.15,.24,-.15,0,.2,0,.35,0]];
const rbfoxTops=[0,0,0,0];
const rbfoxShapes=[[[1.85,.01],[1.3,.04],[1,.06],[.75,.12],[.55,.17],[.35,.08],[.2,.25],[.12,.55],[.05,.85],[0,1]],[[2.3,.005],[1.7,.04],[1.3,.12],[1,.18],[.7,.22],[.45,.2],[.3,.17],[.2,.3],[.1,.65],[0,1]],[[1.45,.01],[1.15,.06],[.9,.13],[.6,.18],[.35,.14],[.2,.2],[.1,.55],[0,1]],[[1.57,.72],[1.4,.92],[1.2,1],[.9,.75],[.7,.6],[.5,.72],[.25,.95],[0,1]]];
const rbfoxDots=[[-.05,1.85,.3,1.2,-.3,1.15,-.3,.85,.25,.8,-.05,.7,.05,.6,.2,.6,-.3,.6,-.35,.45,.3,.45,-.4,0,-.2,0,0,0,.2,0,.4,0],[0,2.3,0,1.85,.3,1.55,-.3,1.4,-.15,1.4,.3,1.35,-.35,1.2,.05,1.2,-.2,1.05,.3,1,-.1,.95,.15,.9,-.3,.85,.35,.75,0,.75,-.2,.7,.2,.65,-.35,.6,.05,.55,.3,.5,-.25,.48,-.05,.45,.2,.42,-.35,.38,.1,.35,.3,.32,-.2,.3,-.4,0,-.2,0,0,0,.2,0],[-.3,1.5,0,1.45,0,1.3,.15,1.05,-.2,.95,.2,.85,-.1,.8,.3,.75,-.3,.65,0,.65,.1,.55,-.25,.5,.2,.45,-.05,.4,.25,.35,-.3,.3,-.4,0,-.2,0,0,0,.2,0],[.2,1.57,-.25,1.4,-.35,1.15,.05,1.18,-.1,.95,-.28,.35,-.25,.25,.05,0]];

/* ---------- Panel D ---------- */
const pieShare2D=[6];
const pieShareChips=[12];

/* ---------- Panel E ---------- */
const barCategories=['KCNJ6','SOX6','LMO3','NR4A2'];
const barValues2D=[46.4,13.2,18.4,9.8];
const barValuesChips=[53.7,40.6,37.3,26.7];
const barTicks=[0,20,40,60];

/* ---------- Panels F, G: rows are [-log10 p, [log2 FC values]] ---------- */
const fGrayRows=[
[5,[-1.15,-1.05,-.95,-.85,-.75,-.65,-.55,-.45,-.38]],[11,[-1.15,-1.05,-.95,-.85,-.75,-.65,-.55,-.45,-.38]],[17,[-1.15,-1.05,-.95,-.85,-.7,-.6,-.5,-.42]],[22,[-1.15,-1,-.9,-.78]],
[5,[.38,.46,.55,.63,.72,.8,.9]],[11,[.38,.46,.55,.63,.72,.8,.9,1,1.08]],[17,[.38,.46,.55,.63,.72,.8,.9,1,1.08,1.15]],[23,[.38,.46,.55,.63,.72,.8,.9,1,1.08]],[29,[.38,.46,.55,.63,.72,.8,.9,1,1.08,1.15]],
[35,[.38,.46,.55,.63,.72,.8,.9,1,1.1]],[41,[.4,.5,.6,.7,.8,.9,1,1.1]],[47,[.55,.65,.75,.85,.95,1.05,1.12]],[53,[.75,.9,1,1.1]],[58,[.42,.6,.88,1.08]]];
const fGrayScatter=[.47,195,.5,196,.92,189,.64,173,.45,165,1.09,173,.89,160,1.01,145,.4,144,.39,139,.74,137.5,.74,130,.43,118,.55,108,.72,107,.43,101.5,.7,98.5,.6,91.5,.49,89,.78,86,.53,85,.47,76,.49,82,.78,68,.96,66.5,.72,63.5,.87,65,.41,56.5,.6,58,.87,57,1.1,63.5,.57,284.7,.68,287];
const fLightRow=[-1.55,-1.4,-1.25,-1.1,-.95,-.8,-.65,-.5,-.4,.53,.6,.85,1.1];
const fHit=[-2.01,35,-2.09,27.5,-2.04,23,-1.85,26.5,-2.19,10,-2.04,5,-1.73,1,-1.87,17,-1.75,11,-1.59,32,-1.5,29,-1.65,21,-1.42,21,-1.58,13,-1.35,26,-1.27,23,-1.42,13,-1.27,13,-1.5,7,-1.23,7,-1.65,27.5,-1.54,18,-1.31,18,-1.54,26,-1.42,27.5,-1.5,36,-1.42,33,-1.25,30,-1.35,8,-1.6,20,-1.72,18,-1.45,18,-1.3,4,-1.45,4,-1.22,16,1.37,91,1.33,82,1.75,90,1.52,84,1.64,84,1.79,82,1.6,77.5,1.68,74,1.26,73,1.49,74,1.26,66.5,1.37,66.5,1.52,65,1.45,60,1.72,55.5,1.56,59,1.29,59,1.45,51,1.26,52.5,1.33,48,1.22,40,1.64,45,1.52,38.5,1.64,38.5,1.29,32,1.41,29,1.26,24,1.6,26,1.24,48,1.4,51];
const fLabels=[['ISL1',1.24,287,1.36,294],['TBX20',1.2,286,1,280],['AC022433.1',1.55,287,1.82,280],['SLC5A7',3.04,287,3.23,294],['DLC1',3.76,287,3.94,280],['AC120193.1',2.13,161,1.93,167],['NYAP2',2.19,155,2.43,149],['SV2C',2.02,145,1.83,138],['MOXD1',1.7,100,1.5,106],['SLIT3',2.07,97.5,2.25,91],['NEFM',2.56,100,2.75,106],['SLC44A5',2.56,86,2.69,79],['RMST',-2.79,82,-2.99,75],['CNTN4',-2.82,55,-3.12,61],['PDE10A',-2.17,41,-2.41,57],['PDE4D',-1.56,40.6,-1.77,46],['RFX3',-1.38,44,-1.16,50],['TTC6',-3.25,41,-3.44,47],['GLIS3',-3,35,-2.8,41],['SULF1',-3.45,36,-3.61,30],['FOXP2',-2.89,30,-2.53,29],['RFX4',-3.74,24,-3.93,17],['PDE3A',-2.83,23,-3.02,16],['CDHR3',-2.31,1.5,-2.5,-5]];
const fXTicks=['\u22122.5','0','2.5'];
const fXTickValues=[-2.5,0,2.5];
const fYTicks=[0,100,200,300];

const gGrayRows=[
[6,[.4,.5,.6,.75,-1.1,-1,-.9,-.8,-.7,-.6,-.5,-.4,-.34]],[12,[.38,.46,.54,.62,.7,.85,-1.1,-1,-.9,-.8,-.7,-.6,-.5,-.4,-.34]],[18,[.36,.44,.52,.6,.68,.76,1.05,-1.1,-1,-.9,-.8,-.7,-.6,-.5,-.4,-.34]],
[24,[.36,.44,.52,.6,.68,.76,.9,-1.15,-.95,-.85,-.75,-.65,-.55,-.45,-.38]],[30,[.36,.44,.52,.6,.68,.76,.85,-1.15,-1.05,-.9,-.8,-.7,-.6,-.5,-.45]],[36,[.36,.44,.52,.6,.68,.76,.85,.95,-1.1,-1,-.9,-.8,-.7,-.6,-.5]],
[42,[.36,.44,.52,.6,.68,.76,.9,-.85,-.75,-.65,-.6,-.98]],[48,[.38,.46,.54,.62,.7,.8,.9,1,-1.15,-.62]],[54,[.4,.48,.56,.64,.72,.8,.9,-1.17]],[60,[.4,.48,.56,.64,.72,.8,.9,1]],[66,[.4,.48,.56,.64,.72,.8,.88,1.07]],
[72,[.42,.5,.58,.66,.74,.82,.9,1,1.1]],[78,[.42,.55,.62,.7,.78,.9,1,1.1,1.18]],[84,[.6,.68,.76,.84,.92,1,1.1,1.18]],[90,[.6,.7,.78,.86,.94,1.02,1.12]],[96,[.4,.46,.7,.8,.88,.98,1.08,1.18]],[102,[.58,.7,.8,.95,1]],
[3,[-1.05,-.95,-.85,-.75,-.65,-.55,-.45,-.37,.45,.55]],[9,[-1.05,-.95,-.85,-.75,-.65,-.55,-.45,-.37,.42,.5,.58,.66]],[15,[-1.05,-.95,-.85,-.75,-.65,-.55,-.45,-.37,.4,.48,.56,.64,.72]],[21,[-1.05,-.95,-.85,-.75,-.65,-.55,-.45,-.37,.4,.48,.56,.64,.72]],[27,[-1.1,-.95,-.85,-.75,-.65,-.55,-.45,.4,.48,.56,.64,.72]],[33,[-1.1,-.95,-.85,-.75,-.65,-.55,.4,.48,.56,.64,.72,.8]],[39,[-1.05,-.85,-.75,-.65,.4,.48,.56,.64,.72,.82]]];
const gGrayScatter=[1.19,230,.96,184,.69,170,-.69,86,-1.03,62,.56,115,.65,111,.86,119,1.03,120,1.13,118,1.19,130,1.13,107,1.21,109,.5,116,-.82,41];
const gLightRow=[-1.15,-1.03,-.91,-.79,-.67,-.55,-.43,-.35,.42,.5];
const gHit=[1.57,147,1.52,144,1.66,149,1.84,147,1.88,140,1.31,141,1.45,136,1.52,133,1.89,133,1.82,124,1.93,125,1.49,114,1.56,115,1.59,110,1.23,110,1.36,108,1.22,105,1.25,100,1.35,100,1.44,100,1.53,98,1.62,98,1.64,102,1.25,93,1.35,96,1.47,96,1.35,70,1.48,70,1.35,64,1.48,64,1.41,68,-1.43,65,-1.48,61,-1.5,59,-1.68,61,-1.27,57,-1.43,52,-1.35,37,-1.41,32,-1.28,37,-1.74,31,-1.85,34,-1.55,30,-1.58,26,-1.39,21,-1.42,19,-1.52,18,-1.64,10,-1.52,9,-1.66,6,-1.22,27,-1.56,25];
const gLabels=[['LMX1A',1.28,230,1.09,225],['GLRA3',1.47,230,1.67,225],['MDGA2',2.5,187,2.67,192],['LINC01322',2.02,177,2.18,182],['GABRB1',1.47,166,1.3,160],['GALNTL6',2.91,158,3.08,164],['GRID2',2.32,148,2.15,153],['CACNA2D1',2.34,134,2.5,139],['RALYL',2.21,132,2.5,128],['GLRA2',1.24,134,.99,139],['EPHA5',1.51,134,1.7,138],['NAV3',1.53,130,1.67,129],['PHACTR1',1.51,125,1.06,125],['NRG1',1.41,120,1.69,119],['CNTNAP2',1.99,118,2.4,119],['SNTG1',1.82,109,2.14,110],['KCNMB2',2.04,99,2.42,101],['CACNB2',1.33,85,1.63,90],['HS6ST3',1.99,86,2.33,85],['KCND2',1.25,82,1,85],['ZNF804A',1.38,78,1.74,76],['LRRC7',1.22,63,.91,62],['SGCZ',1.47,48,1.27,53],['IQCJ-SCHIP1',1.56,48,2,53],['CNTN5',1.62,36,1.45,41],['KCTD8',1.25,27,1.09,32],['PBX3',1.53,24,1.7,29],['CDH18',1.52,20,1.83,19],['DPP10',1.22,14,.97,9],['EFNA5',1.32,15,1.53,9],['TSHZ2',-1.88,85,-2.04,90.5],['IGFBP2',-1.53,75,-1.37,80],['QKI',-1.57,70,-1.77,70],['LRBA',-1.24,70,-.98,70],['NEAT1',-2.82,69,-3,64],['IGFBP5',-2.01,55,-2.21,60],['NFIA',-2.75,56,-2.6,51],['RFX4',-3.38,49,-3.22,54],['VCAN',-1.42,52,-1.67,55],['FBXL7',-1.75,51,-2.11,46],['WDR49',-1.26,42,-1.11,46],['NFIB',-1.41,40,-1.64,37],['SULF1',-2.5,29,-2.35,35],['CDHR3',-2.53,27,-2.7,21],['GLIS3',-1.52,18,-1.84,22],['TTR',-1.61,10,-1.8,13],['TNC',-2.03,9,-2.19,4],['AC109806.1',-1.35,6,-1.19,.3],['ALCAM',-1.35,6,-.46,-7]];
const gXTicks=['\u22124.0','\u22122.0','0','2.0'];
const gXTickValues=[-4,-2,0,2];
const gYTicks=[0,50,100,150,200];

/* ---------- Drawing ---------- */
const NS='http://www.w3.org/2000/svg';
const GOLD='#DFAB25',TEAL='#3A9AB5',BTEAL='#1C93AE',LGOLD='#C58F33',LTEAL='#1A727B';
function mk(tag,attrs,parent,name){
  const e=document.createElementNS(NS,tag);
  for(const k in attrs)e.setAttribute(k,attrs[k]);
  
  
  parent.appendChild(e);
  return e;
}
function line(p,x1,y1,x2,y2,stroke,w,name,dash){
  const a={x1,y1,x2,y2,stroke,'stroke-width':w};
  if(dash)a['stroke-dasharray']=dash;
  return mk('line',a,p,name);
}
function label(p,str,x,cy,size,name,o){
  o=o||{};
  const e=mk('text',{transform:`translate(${x},${cy}) scale(${o.sx||1},1)`,y:size*.36,'font-size':size,'text-anchor':o.a||'middle','font-style':o.i?'italic':'normal',fill:o.fill||'#111'},p,name);
  e.textContent=str;
  return e;
}
function smooth(pts){
  let d='';
  for(let i=0;i<pts.length-1;i++){
    const p0=pts[Math.max(i-1,0)],p1=pts[i],p2=pts[i+1],p3=pts[Math.min(i+2,pts.length-1)];
    const c1x=p1[0]+(p2[0]-p0[0])/6,c1y=p1[1]+(p2[1]-p0[1])/6,c2x=p2[0]-(p3[0]-p1[0])/6,c2y=p2[1]-(p3[1]-p1[1])/6;
    d+=`C${c1x.toFixed(1)} ${c1y.toFixed(1)} ${c2x.toFixed(1)} ${c2y.toFixed(1)} ${p2[0].toFixed(1)} ${p2[1].toFixed(1)}`;
  }
  return d;
}
function violinPath(cx,yOf,hw,profile){
  const right=profile.map(q=>[cx+q[1]*hw,yOf(q[0])]);
  const left=profile.slice().reverse().map(q=>[cx-q[1]*hw,yOf(q[0])]);
  return `M${right[0][0].toFixed(1)} ${right[0][1].toFixed(1)}`+smooth(right)+`L${left[0][0].toFixed(1)} ${left[0][1].toFixed(1)}`+smooth(left)+'Z';
}
function dots(p,list,cx,hw,yOf,r,name){
  for(let i=0;i+1<list.length;i+=2){
    mk('circle',{cx:cx+list[i]*hw,cy:yOf(list[i+1]),r,fill:'#111'},p,name);
  }
}
function rowsToPoints(rows){const out=[];rows.forEach(r=>r[1].forEach(x=>out.push([x,r[0]])));return out;}

/* Panel A */
(function(){
  const g=document.getElementById('layer-umap');
  const sx=u=>810+u*45.5, sy=v=>664-v*42.1;
  const pts=[];
  rowsToPoints(umapGold).forEach(q=>pts.push([q[0],q[1],'#DDA62C']));
  rowsToPoints(umapTeal).forEach(q=>pts.push([q[0],q[1],'#1E93A9']));
  pts.forEach(q=>{
    mk('circle',{cx:sx(q[0]),cy:sy(q[1]),r:4.6,fill:q[2]},g,'umap-cell');
  });
  line(g,172,335,172,1115,'#222',3.5,'umap-y-axis');
  line(g,172,1113,1355,1113,'#222',3.5,'umap-x-axis');
  umapXTicks.forEach(t=>{
    label(g,String(t).replace('-','\u2212'),sx(t)-(t<0?8:0),1181,52,'umap-x-tick-label');
  });
  umapYTicks.forEach(t=>{
    label(g,String(t).replace('-','\u2212'),152,sy(t)-2+(t===-10?10:0),52,'umap-y-tick-label',{a:'end'});
  });
  mk('rect',{x:208,y:354,width:76,height:44,fill:LGOLD,stroke:'#0a0a0a','stroke-width':8},g,'legend-swatch-2d');
  mk('rect',{x:208,y:422,width:74,height:44,fill:LTEAL,stroke:'#0a0a0a','stroke-width':8},g,'legend-swatch-organ-chips');
  label(g,'2D',302,387,44,'legend-label-2d',{a:'start',sx:.85});
  label(g,'ORGAN-CHIPS',297,448,44,'legend-label-organ-chips',{a:'start',sx:.97});
})();

/* Panel B */
function drawStack(g,c){
  line(g,c.axisX,c.top,c.axisX,c.bottom+2,'#333',3,'stack-y-axis');
  line(g,c.axisX,c.bottom,c.right,c.bottom,c.sepColor,c.sepW,'stack-x-axis');
  c.rows.forEach(r=>{
    const yOf=v=>r.base-v*r.ppu;
    if(r.sep)line(g,c.axisX,r.sep,c.right,r.sep,c.sepColor,c.sepW,'row-separator');
    label(g,r.tickLabel,c.tickX,r.tickY,32,'row-tick-label',{sx:.88});
    for(let i=0;i<12;i++){
      const cx=r.x0+Math.floor(i/2)*r.step+(i%2)*c.odd;
      line(g,cx-c.hw,r.base,cx+c.hw,r.base,'#999',3,'violin-baseline');
      if(c.dark)line(g,cx-c.hw*.5,r.base,cx+c.hw*.5,r.base,'#333',3,'violin-baseline-core');
      if(r.shapes[i]){
        mk('path',{d:violinPath(cx,yOf,c.hw,r.shapes[i]),fill:i%2?BTEAL:GOLD,stroke:'#444','stroke-width':1.5},g,'violin-shape');
      }
      if(r.tops[i]>0)line(g,cx,r.base,cx,yOf(r.tops[i]),c.lineColor,c.lineW,'violin-range-line');
      dots(g,r.dots[i],cx,c.hw,yOf,c.dotR,'violin-cell-dot');
    }
  });
  c.groups.forEach((q,i)=>{
    label(g,'2D',q[0],c.labelY+q[2],32,'x-label-2d',{sx:.76});
    label(g,'ORGAN',q[1],c.labelY+q[2],32,'x-label-organ',{sx:.75});
    label(g,'CHIPS',q[1],c.labelY+q[2]+35,32,'x-label-chips',{sx:.75});
    line(g,q[3],q[5],q[4],q[5],'#333',3,'group-underline');
    label(g,groupNumbers[i],q[6],q[7],56,'group-number',{sx:.85});
  });
}
(function(){
  const g=document.getElementById('layer-b');
  drawStack(g,{axisX:1689,top:148,bottom:1134,right:2848,sepColor:'#9a9a9a',sepW:3.5,odd:85,hw:43,lineColor:'#222',lineW:3,dotR:2,dark:false,tickX:1659,labelY:1160,
    rows:[
      {base:369,ppu:48.25,x0:1770.6,step:188,sep:376,tickLabel:'4.0',tickY:176,tops:thTops,shapes:thShapes,dots:thDots},
      {base:589,ppu:52,x0:1757,step:188,sep:596,tickLabel:'3.0',tickY:433,tops:chatTops,shapes:chatShapes,dots:chatDots},
      {base:851,ppu:51,x0:1757,step:188,sep:868,tickLabel:'4.0',tickY:646,tops:sstTops,shapes:sstShapes,dots:sstDots},
      {base:1127,ppu:55,x0:1759,step:187.6,sep:0,tickLabel:'3.0',tickY:961,tops:gad1Tops,shapes:gad1Shapes,dots:gad1Dots}],
    groups:[[1751,1844,0,1737,1848,1229,1795,1262],[1939,2033,2,1942,2052,1228,1998,1262],[2133,2213,6,2127,2238,1228,2183,1264],[2326,2405,6,2311,2422,1227,2366,1264],[2510,2596,1,2505,2616,1227,2554,1262],[2695,2780,2,2701,2812,1227,2761,1257]]});
  drawStack(g,{axisX:3025,top:136,bottom:1134,right:4182,sepColor:'#555',sepW:2.5,odd:85.5,hw:43,lineColor:'#333',lineW:2.5,dotR:2.6,dark:true,tickX:2991,labelY:1160,
    rows:[
      {base:365,ppu:51.75,x0:3071,step:192.8,sep:374,tickLabel:'4.0',tickY:158,tops:tph1Tops,shapes:tph1Shapes,dots:tph1Dots},
      {base:592,ppu:42.75,x0:3075.5,step:192.6,sep:596,tickLabel:'4.0',tickY:421,tops:tph2Tops,shapes:{},dots:tph2Dots},
      {base:855,ppu:140.7,x0:3086,step:189.5,sep:867,tickLabel:'1.5',tickY:644,tops:slc7Tops,shapes:{},dots:slc7Dots},
      {base:1126,ppu:94,x0:3093,step:189.6,sep:0,tickLabel:'2.0',tickY:938,tops:slc8Tops,shapes:slc8Shapes,dots:slc8Dots}],
    groups:[[3086,3179,0,3071,3182,1230,3130,1264],[3275,3368,2,3276,3388,1230,3333,1262],[3468,3547,6,3462,3573,1230,3518,1265],[3660,3740,6,3646,3758,1230,3700,1265],[3845,3931,2,3840,3951,1229,3889,1262],[4030,4116,2,4035,4148,1229,4095,1257]]});
})();

/* Panel C */
(function(){
  const g=document.getElementById('layer-c');
  const charts=[
   {n:'nes',ax:269,top:1664,bot:2030,right:1222,base:2023,ppu:229,hw:93,cx:[450,634,860,1043],tops:nesTops,shapes:nesShapes,dots:nesDots,end:259,ticks:[['1.5',1664],['1.0',1796],['0.5',1909],['0.0',2019]],lab:[443,2060,635,2058,2109,864,2058,1055,2055,2107],bars:[448,630,876,1059,2132],nums:[527,2160,972,2155]},
   {n:'dcx',ax:272,top:2409,bot:2774,right:1219,base:2757,ppu:115,hw:93,cx:[448,635,866,1052],tops:dcxTops,shapes:dcxShapes,dots:dcxDots,end:261,ticks:[['3.0',2411],['2.0',2534],['1.0',2642],['0',2749]],lab:[440,2808,632,2805,2857,860,2805,1052,2802,2855],bars:[444,627,872,1055,2879],nums:[523,2907,969,2902]},
   {n:'syp',ax:1345,top:1664,bot:2030,right:2297,base:2023,ppu:177,hw:92,cx:[1519,1703,1930,2114],tops:sypTops,shapes:sypShapes,dots:sypDots,end:1334,ticks:[['2.0',1669],['1.5',1748],['1.0',1836],['0.5',1933],['0.0',2019]],lab:[1507,2060,1699,2058,2110,1926,2058,2118,2055,2107],bars:[1511,1693,1939,2121,2131],nums:[1591,2160,2037,2154]},
   {n:'map2',ax:2406,top:1664,bot:2030,right:3354,base:2023,ppu:90,hw:94,cx:[2567,2755,2984,3172],tops:map2Tops,shapes:map2Shapes,dots:map2Dots,end:2398,ticks:[['4.0',1666],['3.0',1766],['2.0',1855],['1.0',1944],['0.0',2019]],lab:[2569,2061,2761,2060,2111,2987,2060,3181,2058,2110],bars:[2574,2757,3001,3183,2134],nums:[2653,2162,3099,2157]},
   {n:'dlg4',ax:1350,top:2411,bot:2777,right:2299,base:2768,ppu:336,hw:92,cx:[1517,1702,1928,2111],tops:dlg4Tops,shapes:dlg4Shapes,dots:dlg4Dots,end:1337,ticks:[['1.0',2416],['0.5',2584],['0.0',2752]],lab:[1519,2811,1710,2809,2861,1937,2809,2131,2806,2858],bars:[1524,1706,1952,2134,2883],nums:[1602,2911,2047,2905]},
   {n:'rbfox3',ax:2408,top:2411,bot:2776,right:3359,base:2768,ppu:141.6,hw:92,cx:[2570,2755,2981,3165],tops:rbfoxTops,shapes:rbfoxShapes,dots:rbfoxDots,end:2400,ticks:[['2.5',2414],['2.0',2490],['1.5',2579],['0.5',2682],['0.0',2763]],lab:[2570,2811,2762,2809,2861,2990,2809,3182,2806,2858],bars:[2576,2758,3004,3186,2882],nums:[2656,2911,3101,2905]}
  ];
  charts.forEach(c=>{
    const yOf=v=>c.base-v*c.ppu;
    line(g,c.ax,c.top,c.ax,c.bot+2,'#222',3.5,c.n+'-y-axis');
    line(g,c.ax,c.bot,c.right,c.bot,'#222',3.5,c.n+'-x-axis');
    c.ticks.forEach(t=>{
      label(g,t[0],c.end,t[1],42,c.n+'-y-tick-label',{a:'end',sx:.87});
    });
    c.cx.forEach((cx,i)=>{
      if(c.shapes[i]){
        mk('path',{d:violinPath(cx,yOf,c.hw,c.shapes[i]),fill:i%2?TEAL:GOLD,stroke:'#555','stroke-width':1.5},g,c.n+'-violin');
      }else{
        line(g,cx-c.hw,c.base,cx+c.hw,c.base,'#777',3,c.n+'-baseline');
        line(g,cx,c.base,cx,yOf(c.tops[i]),'#777',3,c.n+'-range-line');
      }
      dots(g,c.dots[i],cx,c.hw,yOf,2.6,c.n+'-cell-dot');
    });
    const L=c.lab;
    label(g,'2D',L[0],L[1],40,c.n+'-label-2d',{sx:.92});
    label(g,'ORGAN',L[2],L[3],40,c.n+'-label-organ',{sx:.92});
    label(g,'CHIPS',L[2],L[4],40,c.n+'-label-chips',{sx:.92});
    label(g,'2D',L[5],L[6],40,c.n+'-label-2d',{sx:.92});
    label(g,'ORGAN',L[7],L[8],40,c.n+'-label-organ',{sx:.92});
    label(g,'CHIPS',L[7],L[9],40,c.n+'-label-chips',{sx:.92});
    line(g,c.bars[0],c.bars[4],c.bars[1],c.bars[4],'#999',3,c.n+'-group-underline');
    line(g,c.bars[2],c.bars[4],c.bars[3],c.bars[4],'#999',3,c.n+'-group-underline');
    label(g,'5',c.nums[0],c.nums[1],44,c.n+'-group-number');
    label(g,'6',c.nums[2],c.nums[3],44,c.n+'-group-number');
  });
})();

/* Panel D */
(function(){
  const g=document.getElementById('layer-d');
  function pie(cx,cy,rx,ry,share,startDeg,color,name){
    mk('ellipse',{cx,cy,rx,ry,fill:'#7C7E7D',stroke:'#0a0a0a','stroke-width':6},g,name+'-remainder');
    const a0=startDeg*Math.PI/180,a1=a0+share/100*2*Math.PI;
    const x0=cx+(rx-3)*Math.cos(a0),y0=cy-(ry-3)*Math.sin(a0),x1=cx+(rx-3)*Math.cos(a1),y1=cy-(ry-3)*Math.sin(a1);
    mk('path',{d:`M${cx} ${cy}L${x0} ${y0}A${rx-3} ${ry-3} 0 0 0 ${x1} ${y1}Z`,fill:color},g,name+'-th-slice');
  }
  pie(3939,1941,191,177,pieShare2D[0],0,'#C28F33','pie-2d');
  pie(3950.5,2460,191,179,pieShareChips[0],-10,'#0C737B','pie-organ-chips');
})();

/* Panel E */
(function(){
  const g=document.getElementById('layer-e');
  const y=v=>4113-v*11.98;
  const pairGap=[99,86,92,92];
  barTicks.forEach(t=>{
    line(g,432,y(t),463,y(t),'#222',2.5,'bar-y-tick');
    label(g,String(t),t===0?400:386,y(t),58,'bar-y-tick-label');
  });
  line(g,463,y(60),463,4113,'#222',3,'bar-y-axis');
  barCategories.forEach((c,i)=>{
    const x=498+i*199.7;
    const w=55,sw=8;
    mk('rect',{x:x+sw/2,y:y(barValues2D[i])+sw/2,width:w,height:4113-y(barValues2D[i])-sw/2,fill:LGOLD,stroke:'#0a0a0a','stroke-width':sw},g,'bar-2d-'+c.toLowerCase());
    mk('rect',{x:x+pairGap[i]+sw/2,y:y(barValuesChips[i])+sw/2,width:w,height:4113-y(barValuesChips[i])-sw/2,fill:LTEAL,stroke:'#0a0a0a','stroke-width':sw},g,'bar-organ-chips-'+c.toLowerCase());
    label(g,c,[581,778,970,1169][i],i===0?4163:4158,44,'bar-category-label',{i:true});
  });
  line(g,432,4113,1284,4113,'#222',3.5,'bar-x-axis');
  mk('rect',{x:925,y:3396,width:63,height:34,fill:LGOLD,stroke:'#0a0a0a','stroke-width':6},g,'bar-legend-swatch-2d');
  mk('rect',{x:925,y:3448,width:63,height:34,fill:LTEAL,stroke:'#0a0a0a','stroke-width':6},g,'bar-legend-swatch-organ-chips');
  label(g,'2D',1006,3414,40,'bar-legend-label-2d',{a:'start'});
  label(g,'ORGAN-CHIPS',1002,3466,40,'bar-legend-label-organ-chips',{a:'start',sx:.97});
})();

/* Panels F and G */
function volcano(g,c){
  const sx=v=>c.x0+v*c.kx, sy=v=>c.y0-v*c.ky;
  const gray=rowsToPoints(c.rows);
  for(let i=0;i+1<c.scatter.length;i+=2)gray.push([c.scatter[i],c.scatter[i+1]]);
  gray.forEach(q=>{
    mk('circle',{cx:sx(q[0]),cy:sy(q[1]),r:c.r,fill:'#8C8C8C'},g,c.n+'-point-not-significant');
  });
  c.light.forEach(x=>{
    mk('circle',{cx:sx(x),cy:sy(c.lightY),r:c.r,fill:'#C8C8C8'},g,c.n+'-point-low-significance');
  });
  for(let i=0;i+1<c.hit.length;i+=2){
    mk('circle',{cx:sx(c.hit[i]),cy:sy(c.hit[i+1]),r:c.r,fill:c.color},g,c.n+'-point-significant');
  }
  c.labels.forEach(q=>{
    mk('circle',{cx:sx(q[1]),cy:sy(q[2]),r:c.r,fill:c.color},g,c.n+'-point-labelled');
  });
  c.labels.forEach(q=>{
    const x=sx(q[1]),y=sy(q[2]),tx=sx(q[3]),ty=sy(q[4]);
    line(g,x,y,x+(tx-x)*.55,y+(ty-y)*.55,'#111',2,c.n+'-leader-line');
    label(g,q[0],tx,ty,19,c.n+'-gene-label',{fill:'#222',sx:.92});
  });
  line(g,sx(-1.2),c.top,sx(-1.2),c.bot,'#222',2.5,c.n+'-threshold-low','14 7');
  line(g,sx(1.2),c.top,sx(1.2),c.bot,'#222',2.5,c.n+'-threshold-high','14 7');
  line(g,c.ax,sy(c.hline),c.right,sy(c.hline),'#999',3,c.n+'-threshold-p','16 10');
  line(g,c.ax,c.top,c.ax,c.bot+2,'#111',c.axW,c.n+'-y-axis');
  line(g,c.ax,c.bot,c.right,c.bot,'#111',3.5,c.n+'-x-axis');
  c.yTicks.forEach(t=>{
    line(g,c.ax-c.tick,sy(t),c.ax,sy(t),'#222',3,c.n+'-y-tick');
  });
  c.yLabels.forEach(t=>{
    label(g,t[0],c.yEnd,t[1],53,c.n+'-y-tick-label',{a:'end',sx:.92});
  });
  c.xVals.forEach((t,i)=>{
    line(g,sx(t),c.bot,sx(t),c.bot+12,'#222',3,c.n+'-x-tick');
    label(g,c.xLabels[i],sx(t)+(c.xShift?c.xShift[i]:0),c.xLabelY,53,c.n+'-x-tick-label',{sx:.92});
  });
}
volcano(document.getElementById('layer-f'),{n:'cluster-6',x0:2212,kx:111.6,y0:4082,ky:2.44,r:11,color:'#DBA425',rows:fGrayRows,scatter:fGrayScatter,light:fLightRow,lightY:0,hit:fHit,labels:fLabels,top:3336,bot:4119,ax:1692,right:2733,hline:1.3,axW:3.5,tick:12,yTicks:fYTicks,yEnd:1655,yLabels:[['300',3368],['200',3602],['100',3844],['0',4084]],xVals:fXTickValues,xLabels:fXTicks,xLabelY:4174,xShift:[0,-3,0]});
volcano(document.getElementById('layer-g'),{n:'cluster-5',x0:3506,kx:131.8,y0:4087,ky:2.97,r:10,color:'#1290A8',rows:gGrayRows,scatter:gGrayScatter,light:gLightRow,lightY:0,hit:gHit,labels:gLabels,top:3353,bot:4123,ax:2947,right:4004,hline:1,axW:4,tick:14,yTicks:gYTicks,yEnd:2908,yLabels:[['200',3505],['100',3800],['0',4104]],xVals:gXTickValues,xLabels:gXTicks,xLabelY:4183,xShift:[4,-1,-3,-3]});
</script>
</body>
</html>
